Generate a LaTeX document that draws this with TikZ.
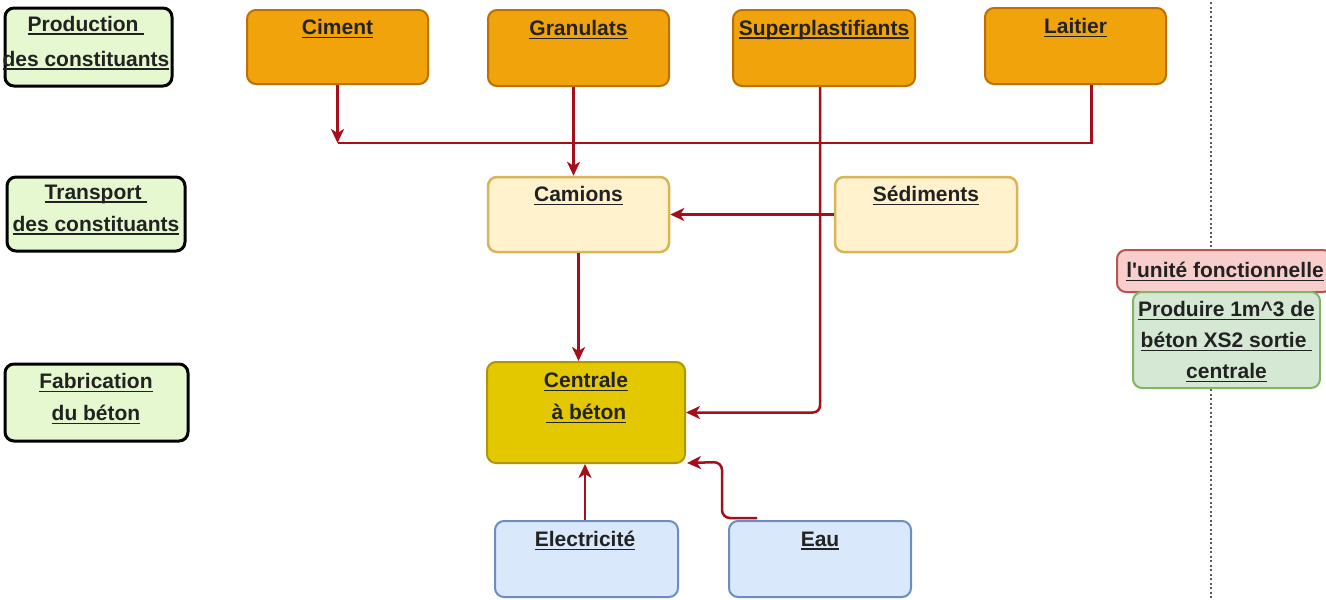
\documentclass[tikz,border=0pt]{standalone}
\usepackage{fontspec}
\setmainfont{Liberation Sans}
% same family without TeX ligatures, so that ' stays a straight quote
\newfontfamily\plainsans{Liberation Sans}
\usetikzlibrary{arrows.meta}

\definecolor{stagefill}{HTML}{E6F8CF}
\definecolor{orangefill}{HTML}{F0A30A}
\definecolor{orangeline}{HTML}{BD7000}
\definecolor{creamfill}{HTML}{FFF2CC}
\definecolor{creamline}{HTML}{D6B656}
\definecolor{plantfill}{HTML}{E3C800}
\definecolor{plantline}{HTML}{B09500}
\definecolor{bluefill}{HTML}{DAE8FC}
\definecolor{blueline}{HTML}{6C8EBF}
\definecolor{redfill}{HTML}{F8CECC}
\definecolor{redline}{HTML}{B85450}
\definecolor{greenfill}{HTML}{D5E8D4}
\definecolor{greenline}{HTML}{82B366}
\definecolor{flow}{HTML}{A50F1C}
\definecolor{ink}{HTML}{222222}

% underlined text: a rule of fixed weight at a fixed distance under the baseline
\newsavebox\ulxbox
\newcommand\ulx[1]{\leavevmode\sbox\ulxbox{#1}\rlap{\rule[-3.5pt]{\wd\ulxbox}{1.6pt}}\usebox\ulxbox}

\tikzset{
  box/.style={rectangle, rounded corners=9pt, line width=2pt, inner sep=0pt},
  stage/.style={box, draw=black, line width=3pt, fill=stagefill},
  rawbox/.style={box, draw=orangeline, fill=orangefill},
  haulbox/.style={box, draw=creamline, line width=2.5pt, fill=creamfill},
  plantbox/.style={box, draw=plantline, fill=plantfill},
  inputbox/.style={box, draw=blueline, fill=bluefill},
  unitbox/.style={box, draw=redline, fill=redfill},
  goalbox/.style={box, draw=greenline, fill=greenfill},
  txt/.style={font=\bfseries\fontsize{21}{32}\selectfont, text=ink, align=center, inner sep=0pt},
  wire/.style={draw=flow, line width=2.5pt},
  arr/.style={wire, -{Stealth[length=14pt, width=13pt, inset=4pt]}},
}

\begin{document}
\begin{tikzpicture}[x=1pt, y=-1pt]
\useasboundingbox[fill=white] (0,0) rectangle (1326,600);

% separator between the flow chart and the functional unit
\draw[gray!70!black, line width=2pt, dash pattern=on 2pt off 2.5pt] (1211,2) -- (1211,600);

% life-cycle stages
\node[stage, minimum width=167pt, minimum height=78pt] (prod) at (88.5,47) {};
\node[stage, minimum width=178pt, minimum height=74pt] (trans) at (96,214) {};
\node[stage, minimum width=183pt, minimum height=77pt] (fab) at (96.5,402.5) {};
\node[txt, font=\bfseries\fontsize{21}{35}\selectfont] (prodT) at (86,43) {\ulx{Production }\\\ulx{des constituants}};
\node[txt] (transT) at (96,210) {\ulx{Transport }\\\ulx{des constituants}};
\node[txt] (fabT) at (96,399) {\ulx{Fabrication}\\\ulx{du béton}};

% raw materials
\node[rawbox, minimum width=181pt, minimum height=74pt] (ciment) at (337.5,47) {};
\node[rawbox, minimum width=181pt, minimum height=76pt] (granulats) at (578.5,48) {};
\node[rawbox, minimum width=182pt, minimum height=76pt] (super) at (824,48) {};
\node[rawbox, minimum width=181pt, minimum height=76pt] (laitier) at (1075.5,46) {};
\node[txt] (cimentT) at (337.5,29) {\ulx{Ciment}};
\node[txt] (granulatsT) at (578.5,30) {\ulx{Granulats}};
\node[txt] (superT) at (824,30) {\ulx{Superplastifiants}};
\node[txt] (laitierT) at (1075.5,28) {\ulx{Laitier}};

% transport
\node[haulbox, minimum width=181pt, minimum height=75pt] (camions) at (578.5,214.5) {};
\node[haulbox, minimum width=182pt, minimum height=75pt] (sediments) at (926,214.5) {};
\node[txt] (camionsT) at (578.5,196) {\ulx{Camions}};
\node[txt] (sedimentsT) at (926,196) {\ulx{Sédiments}};

% concrete plant
\node[plantbox, minimum width=198pt, minimum height=101pt] (centrale) at (586,412.5) {};
\node[txt] (centraleT) at (586,398) {\ulx{Centrale}\\\ulx{\ à béton}};

% utilities
\node[inputbox, minimum width=183pt, minimum height=76pt] (elec) at (586.5,559) {};
\node[inputbox, minimum width=182pt, minimum height=76pt] (eau) at (820,559) {};
\node[txt] (elecT) at (585,541) {\ulx{Electricité}};
\node[txt] (eauT) at (820,541) {\ulx{Eau}};

% functional unit
\node[unitbox, minimum width=215pt, minimum height=42pt] (unite) at (1224.5,271) {};
\node[txt, font=\plainsans\bfseries\fontsize{21}{32}\selectfont] (uniteT) at (1225,272) {\ulx{l'unité fonctionnelle}};
\node[goalbox, minimum width=187pt, minimum height=96pt] (goal) at (1226.5,340) {};
\node[txt, font=\bfseries\fontsize{21}{31}\selectfont] (goalT) at (1226.5,342)
  {\ulx{Produire 1m\^{}3 de}\\\ulx{béton XS2 sortie }\\\ulx{centrale}};

% material flows
\coordinate (merge) at (337.5,143);
\draw[arr] (ciment.south) -- (merge);
\draw[wire] ([xshift=16pt]laitier.south) |- (merge);
\draw[arr] ([xshift=-5pt]granulats.south) -- ([xshift=-5pt]granulats.south |- camions.north);
\draw[arr] (sediments.west) -- (camions.east);
\draw[arr] (camions.south) -- (camions.south |- centrale.north);
\draw[arr, rounded corners=7pt] ([xshift=-4pt]super.south) |- (centrale.east);
\draw[arr] ([xshift=-1.5pt]elec.north) -- ([xshift=-1.5pt]elec.north |- centrale.south);
\coordinate (eauOut) at (757,518);
\draw[arr, rounded corners=8pt] (eauOut) -- (722,518) -- (722,462) -- ([xshift=1pt,yshift=1pt]centrale.south east);
\end{tikzpicture}
\end{document}
